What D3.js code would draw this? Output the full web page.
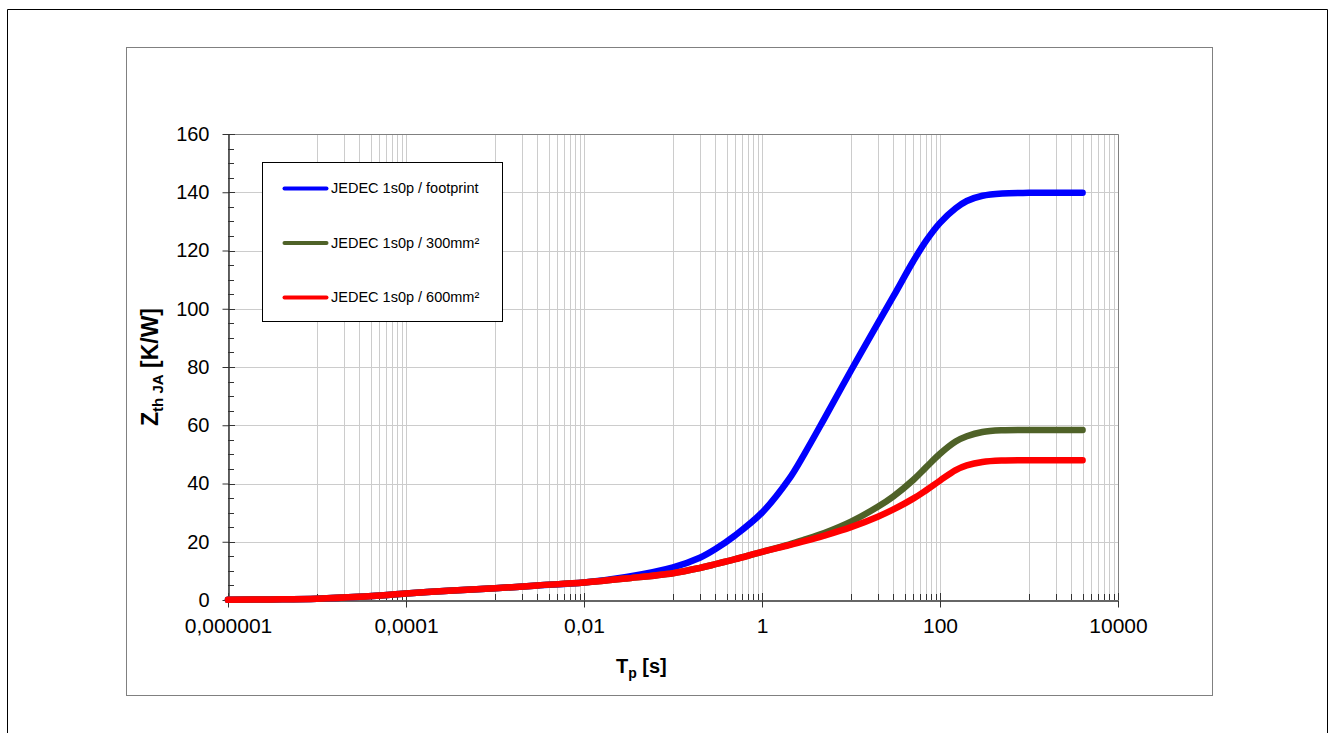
<!DOCTYPE html>
<html>
<head>
<meta charset="UTF-8">
<title>Zth JA</title>
<script src="https://d3js.org/d3.v7.min.js"></script>
<style>
    body {
        margin: 0;
        background: #fff;
    }
    svg {
        display: block;
        font-family: "Liberation Sans", Arial, sans-serif;
    }
    .grid line { stroke: #cccccc; stroke-width: 1; }
    .axis path, .axis line { stroke: #333; }
    .axis text { fill: #000; }
</style>
</head>
<body>
<div id="chart"></div>
<script>
    // pulse time [s]
    const tp = [1e-6, 3e-6, 1e-5, 3e-5, 1e-4, 3e-4, 1e-3, 3e-3, 0.01, 0.03, 0.1, 0.2, 0.3, 0.5,
        1, 2, 3, 5, 10, 20, 30, 50, 70, 100, 150, 200, 300, 500, 1000, 2000, 4000];

    // Zth JA [K/W]
    const footprint = [0.05, 0.2, 0.45, 1.1, 2.2, 3.2, 4.0, 5.0, 6.0, 7.9, 11.2, 14.5, 17.5, 22.2,
        30, 41.4, 50.2, 62.2, 78.8, 95, 104.3, 116.3, 123.4, 129.5, 134.5, 137, 138.8, 139.6, 139.8, 139.8, 139.8];
    const cu300 = [0.05, 0.2, 0.45, 1.1, 2.2, 3.2, 4.0, 5.0, 6.0, 7.4, 9.2, 11.0, 12.3, 14.0,
        16.5, 19.0, 20.7, 23.0, 26.9, 32.0, 35.6, 41.2, 45.6, 50.2, 54.4, 56.2, 57.7, 58.3, 58.4, 58.4, 58.4];
    const cu600 = [0.05, 0.2, 0.45, 1.1, 2.2, 3.2, 4.0, 5.0, 6.0, 7.4, 9.2, 11.0, 12.3, 14.0,
        16.5, 18.8, 20.2, 22.1, 25.0, 28.6, 31.1, 34.8, 37.7, 41.0, 44.6, 46.2, 47.4, 47.9, 48.0, 48.0, 48.0];

    const seriesNames = ["JEDEC 1s0p / footprint", "JEDEC 1s0p / 300mm²", "JEDEC 1s0p / 600mm²"];
    const seriesColors = ["#0000ff", "#4f6228", "#ff0000"];

    const yTicks = [0, 20, 40, 60, 80, 100, 120, 140, 160];
    const xTickValues = [1e-6, 1e-4, 1e-2, 1, 100, 10000];
    const xTickLabels = ["0,000001", "0,0001", "0,01", "1", "100", "10000"];

    const width = 1331, height = 733;
    const plot = { left: 228, right: 1118, top: 134, bottom: 600 };

    const svg = d3.select('#chart').append('svg')
        .attr('width', width)
        .attr('height', height);

    // outer frame + chart area frame
    svg.append('path')
        .attr('d', `M7.5,${height + 2}V9.5H1327.5V${height + 2}`)
        .attr('fill', 'none')
        .attr('stroke', '#000');
    svg.append('rect')
        .attr('x', 126.5).attr('y', 47.5)
        .attr('width', 1086).attr('height', 648)
        .attr('fill', '#fff')
        .attr('stroke', '#808080');

    const x = d3.scaleLog().domain([1e-6, 1e4]).range([plot.left, plot.right]);
    const y = d3.scaleLinear().domain([0, 160]).range([plot.bottom, plot.top]);

    // log axis with base 100: minor lines at 10..90 x each major
    const xMinor = [];
    for (let e = -6; e < 4; e += 2) {
        for (let m = 1; m <= 9; m++) xMinor.push(m * Math.pow(10, e + 1));
    }
    const yMinor = d3.range(0, 161, 5).filter(v => v % 20 !== 0);

    const grid = svg.append('g').attr('class', 'grid');
    grid.selectAll('.vx')
        .data(xMinor.concat(xTickValues))
        .join('line')
        .attr('x1', d => Math.round(x(d)) + 0.5).attr('x2', d => Math.round(x(d)) + 0.5)
        .attr('y1', plot.top).attr('y2', plot.bottom);
    grid.selectAll('.hy')
        .data(yTicks.slice(1))
        .join('line')
        .attr('x1', plot.left).attr('x2', plot.right)
        .attr('y1', d => Math.round(y(d)) + 0.5).attr('y2', d => Math.round(y(d)) + 0.5);

    // plot border (top and right)
    svg.append('path')
        .attr('d', `M${plot.left},${plot.top + 0.5}H${plot.right + 0.5}V${plot.bottom}`)
        .attr('fill', 'none')
        .attr('stroke', '#808080');

    // minor ticks pointing inward
    svg.append('g').selectAll('line')
        .data(xMinor)
        .join('line')
        .attr('x1', d => Math.round(x(d)) + 0.5).attr('x2', d => Math.round(x(d)) + 0.5)
        .attr('y1', plot.bottom).attr('y2', plot.bottom - 6)
        .attr('stroke', '#333');
    svg.append('g').selectAll('line')
        .data(yMinor)
        .join('line')
        .attr('x1', plot.left).attr('x2', plot.left + 6)
        .attr('y1', d => Math.round(y(d)) + 0.5).attr('y2', d => Math.round(y(d)) + 0.5)
        .attr('stroke', '#333');
    // inner half of major ticks
    svg.append('g').selectAll('line')
        .data(xTickValues)
        .join('line')
        .attr('x1', d => Math.round(x(d)) + 0.5).attr('x2', d => Math.round(x(d)) + 0.5)
        .attr('y1', plot.bottom).attr('y2', plot.bottom - 7)
        .attr('stroke', '#333');
    svg.append('g').selectAll('line')
        .data(yTicks)
        .join('line')
        .attr('x1', plot.left).attr('x2', plot.left + 7)
        .attr('y1', d => Math.round(y(d)) + 0.5).attr('y2', d => Math.round(y(d)) + 0.5)
        .attr('stroke', '#333');

    const xAxis = svg.append('g')
        .attr('class', 'axis')
        .attr('transform', `translate(0,${plot.bottom + 0.5})`)
        .call(d3.axisBottom(x)
            .tickValues(xTickValues)
            .tickFormat((d, i) => xTickLabels[i])
            .tickSizeInner(7).tickSizeOuter(0).tickPadding(11));
    xAxis.selectAll('text').attr('font-size', 21);
    xAxis.select('.domain').attr('stroke-width', 1.5);

    const yAxis = svg.append('g')
        .attr('class', 'axis')
        .attr('transform', `translate(${plot.left + 0.5},0)`)
        .call(d3.axisLeft(y)
            .tickValues(yTicks)
            .tickSizeInner(6).tickSizeOuter(0).tickPadding(13));
    yAxis.selectAll('text').attr('font-size', 20);
    yAxis.select('.domain').attr('stroke-width', 1.5);

    // curves
    const series = [footprint, cu300, cu600];
    const line = d3.line()
        .x((d, i) => x(tp[i]))
        .y(d => y(d))
        .curve(d3.curveCatmullRom.alpha(0.5));

    svg.append('g').selectAll('path')
        .data(series)
        .join('path')
        .attr('d', line)
        .attr('fill', 'none')
        .attr('stroke', (d, i) => seriesColors[i])
        .attr('stroke-width', 6.5)
        .attr('stroke-linecap', 'round')
        .attr('stroke-linejoin', 'round');

    // legend
    const legend = svg.append('g').attr('transform', 'translate(262.5,162.5)');
    legend.append('rect')
        .attr('width', 240).attr('height', 159)
        .attr('fill', '#fff')
        .attr('stroke', '#000');
    const item = legend.selectAll('.item')
        .data(seriesNames)
        .join('g')
        .attr('transform', (d, i) => `translate(0,${26 + i * 54.5})`);
    item.append('line')
        .attr('x1', 22).attr('x2', 64)
        .attr('stroke', (d, i) => seriesColors[i])
        .attr('stroke-width', 4)
        .attr('stroke-linecap', 'round');
    item.append('text')
        .attr('x', 68.5).attr('y', 4.5)
        .attr('font-size', 14.5)
        .text(d => d);

    // axis titles
    const xt = svg.append('text')
        .attr('x', 616).attr('y', 673)
        .attr('font-size', 20).attr('font-weight', 'bold');
    xt.append('tspan').text('T');
    xt.append('tspan').attr('font-size', 14).attr('dy', 5).text('p');
    xt.append('tspan').attr('dy', -5).text(' [s]');

    const yt = svg.append('text')
        .attr('transform', `translate(158,${(plot.top + plot.bottom) / 2}) rotate(-90)`)
        .attr('text-anchor', 'middle')
        .attr('font-size', 23).attr('font-weight', 'bold');
    yt.append('tspan').text('Z');
    yt.append('tspan').attr('font-size', 15).attr('dy', 5).text('th JA');
    yt.append('tspan').attr('dy', -5).text('  [K/W]');
</script>
</body>
</html>
